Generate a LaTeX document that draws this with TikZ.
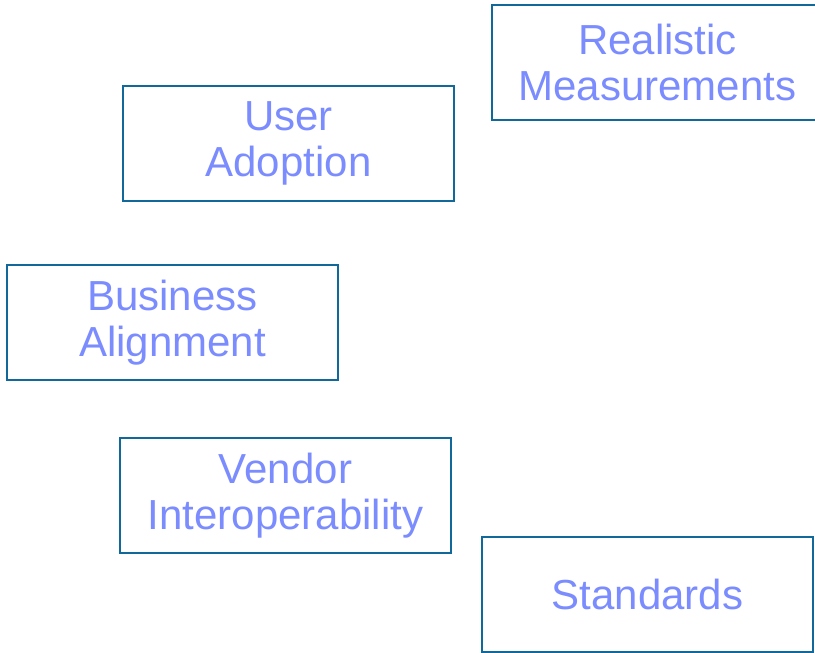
\documentclass[tikz,border=0pt]{standalone}
\usepackage{fontspec}
\setmainfont{Liberation Sans}
\definecolor{boxline}{HTML}{10699A}
\definecolor{boxtext}{HTML}{7B8CFF}
\begin{document}
\begin{tikzpicture}[x=1pt,y=1pt,
  topic/.style={draw=boxline, line width=1.6pt, minimum width=331pt, minimum height=115pt,
    inner sep=0pt, align=center, text=boxtext,
    font=\fontsize{42}{46}\selectfont}]
\useasboundingbox (0,0) rectangle (815,653);
\node[topic] (rm) at (657.5,590.5) {Realistic\\Measurements};
\node[topic] (ua) at (288.5,509.5) {User\\Adoption};
\node[topic] (ba) at (172.5,330.5) {Business\\Alignment};
\node[topic] (vi) at (285.5,157.5) {Vendor\\Interoperability};
\node[topic] (st) at (647.5,58.5) {Standards};
\end{tikzpicture}
\end{document}
